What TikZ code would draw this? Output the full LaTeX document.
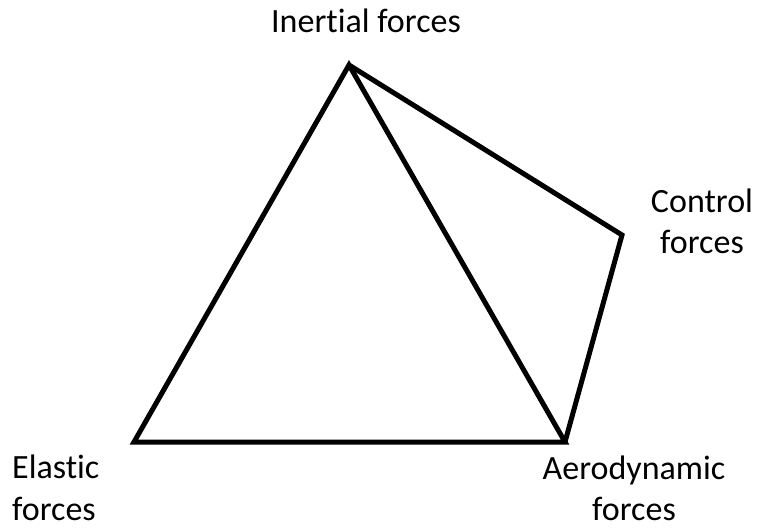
\documentclass[tikz,border=0pt]{standalone}
\usepackage{fontspec}
\setmainfont[Ligatures={NoCommon,NoDiscretionary,NoContextual}]{Carlito}
\begin{document}
\begin{tikzpicture}[x=1pt,y=-1pt,
  edge/.style={line width=5pt,line join=miter,line cap=butt},
  lbl/.style={font=\fontsize{34}{41}\selectfont,inner sep=0pt}]
\useasboundingbox (0,0) rectangle (757,527);
\coordinate (I) at (349,65);
\coordinate (C) at (622,235);
\coordinate (A) at (565,442);
\coordinate (E) at (134,442);
\draw[edge] (E) -- (I) -- (A) -- cycle;
\draw[edge] (I) -- (C) -- (A);
\node[lbl,anchor=base] (tI) at (366,33) {Inertial forces};
\node[lbl,anchor=base] (tC1) at (702,212) {Control};
\node[lbl,anchor=base] (tC2) at (702,253) {forces};
\node[lbl,anchor=base west] (tE1) at (12,478) {Elastic};
\node[lbl,anchor=base west] (tE2) at (12,520) {forces};
\node[lbl,anchor=base] (tA1) at (634,479) {Aerodynamic};
\node[lbl,anchor=base] (tA2) at (634,520) {forces};
\end{tikzpicture}
\end{document}
